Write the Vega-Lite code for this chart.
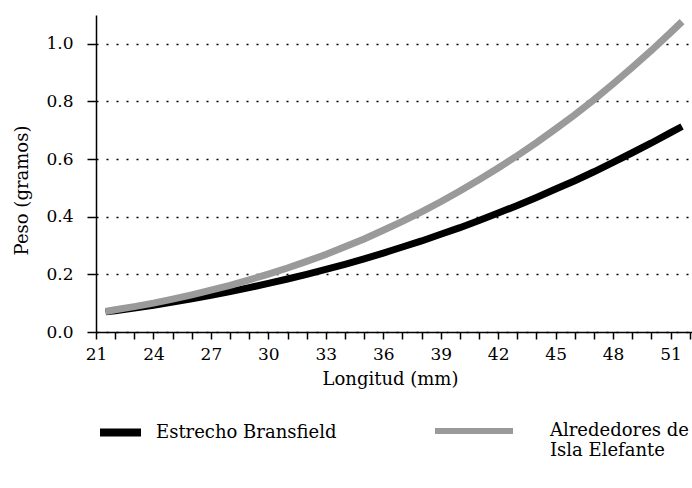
{
  "$schema": "https://vega.github.io/schema/vega-lite/v6.json",
  "width": 596,
  "height": 317,
  "autosize": {"type": "none"},
  "padding": {"left": 96, "top": 15, "right": 0, "bottom": 156},
  "background": "white",
  "config": {
    "view": {"stroke": null},
    "font": "DejaVu Serif",
    "axis": {"labelFont": "DejaVu Serif", "titleFont": "DejaVu Serif"},
    "legend": {"labelFont": "DejaVu Serif", "titleFont": "DejaVu Serif"}
  },
  "data": {
    "values": [
      {"longitud": 21.5, "peso": 0.070, "zona": "Estrecho Bransfield"},
      {"longitud": 22, "peso": 0.074, "zona": "Estrecho Bransfield"},
      {"longitud": 23, "peso": 0.083, "zona": "Estrecho Bransfield"},
      {"longitud": 24, "peso": 0.093, "zona": "Estrecho Bransfield"},
      {"longitud": 25, "peso": 0.104, "zona": "Estrecho Bransfield"},
      {"longitud": 26, "peso": 0.115, "zona": "Estrecho Bransfield"},
      {"longitud": 27, "peso": 0.127, "zona": "Estrecho Bransfield"},
      {"longitud": 28, "peso": 0.140, "zona": "Estrecho Bransfield"},
      {"longitud": 29, "peso": 0.154, "zona": "Estrecho Bransfield"},
      {"longitud": 30, "peso": 0.169, "zona": "Estrecho Bransfield"},
      {"longitud": 31, "peso": 0.184, "zona": "Estrecho Bransfield"},
      {"longitud": 32, "peso": 0.200, "zona": "Estrecho Bransfield"},
      {"longitud": 33, "peso": 0.217, "zona": "Estrecho Bransfield"},
      {"longitud": 34, "peso": 0.235, "zona": "Estrecho Bransfield"},
      {"longitud": 35, "peso": 0.254, "zona": "Estrecho Bransfield"},
      {"longitud": 36, "peso": 0.274, "zona": "Estrecho Bransfield"},
      {"longitud": 37, "peso": 0.295, "zona": "Estrecho Bransfield"},
      {"longitud": 38, "peso": 0.316, "zona": "Estrecho Bransfield"},
      {"longitud": 39, "peso": 0.339, "zona": "Estrecho Bransfield"},
      {"longitud": 40, "peso": 0.362, "zona": "Estrecho Bransfield"},
      {"longitud": 41, "peso": 0.387, "zona": "Estrecho Bransfield"},
      {"longitud": 42, "peso": 0.413, "zona": "Estrecho Bransfield"},
      {"longitud": 43, "peso": 0.439, "zona": "Estrecho Bransfield"},
      {"longitud": 44, "peso": 0.467, "zona": "Estrecho Bransfield"},
      {"longitud": 45, "peso": 0.496, "zona": "Estrecho Bransfield"},
      {"longitud": 46, "peso": 0.525, "zona": "Estrecho Bransfield"},
      {"longitud": 47, "peso": 0.556, "zona": "Estrecho Bransfield"},
      {"longitud": 48, "peso": 0.589, "zona": "Estrecho Bransfield"},
      {"longitud": 49, "peso": 0.622, "zona": "Estrecho Bransfield"},
      {"longitud": 50, "peso": 0.656, "zona": "Estrecho Bransfield"},
      {"longitud": 51, "peso": 0.692, "zona": "Estrecho Bransfield"},
      {"longitud": 51.6, "peso": 0.713, "zona": "Estrecho Bransfield"},
      {"longitud": 21.5, "peso": 0.071, "zona": "Alrededores de Isla Elefante"},
      {"longitud": 22, "peso": 0.077, "zona": "Alrededores de Isla Elefante"},
      {"longitud": 23, "peso": 0.088, "zona": "Alrededores de Isla Elefante"},
      {"longitud": 24, "peso": 0.100, "zona": "Alrededores de Isla Elefante"},
      {"longitud": 25, "peso": 0.114, "zona": "Alrededores de Isla Elefante"},
      {"longitud": 26, "peso": 0.129, "zona": "Alrededores de Isla Elefante"},
      {"longitud": 27, "peso": 0.145, "zona": "Alrededores de Isla Elefante"},
      {"longitud": 28, "peso": 0.162, "zona": "Alrededores de Isla Elefante"},
      {"longitud": 29, "peso": 0.181, "zona": "Alrededores de Isla Elefante"},
      {"longitud": 30, "peso": 0.201, "zona": "Alrededores de Isla Elefante"},
      {"longitud": 31, "peso": 0.222, "zona": "Alrededores de Isla Elefante"},
      {"longitud": 32, "peso": 0.245, "zona": "Alrededores de Isla Elefante"},
      {"longitud": 33, "peso": 0.269, "zona": "Alrededores de Isla Elefante"},
      {"longitud": 34, "peso": 0.296, "zona": "Alrededores de Isla Elefante"},
      {"longitud": 35, "peso": 0.323, "zona": "Alrededores de Isla Elefante"},
      {"longitud": 36, "peso": 0.353, "zona": "Alrededores de Isla Elefante"},
      {"longitud": 37, "peso": 0.384, "zona": "Alrededores de Isla Elefante"},
      {"longitud": 38, "peso": 0.417, "zona": "Alrededores de Isla Elefante"},
      {"longitud": 39, "peso": 0.452, "zona": "Alrededores de Isla Elefante"},
      {"longitud": 40, "peso": 0.489, "zona": "Alrededores de Isla Elefante"},
      {"longitud": 41, "peso": 0.528, "zona": "Alrededores de Isla Elefante"},
      {"longitud": 42, "peso": 0.569, "zona": "Alrededores de Isla Elefante"},
      {"longitud": 43, "peso": 0.612, "zona": "Alrededores de Isla Elefante"},
      {"longitud": 44, "peso": 0.657, "zona": "Alrededores de Isla Elefante"},
      {"longitud": 45, "peso": 0.705, "zona": "Alrededores de Isla Elefante"},
      {"longitud": 46, "peso": 0.754, "zona": "Alrededores de Isla Elefante"},
      {"longitud": 47, "peso": 0.806, "zona": "Alrededores de Isla Elefante"},
      {"longitud": 48, "peso": 0.861, "zona": "Alrededores de Isla Elefante"},
      {"longitud": 49, "peso": 0.918, "zona": "Alrededores de Isla Elefante"},
      {"longitud": 50, "peso": 0.977, "zona": "Alrededores de Isla Elefante"},
      {"longitud": 51, "peso": 1.039, "zona": "Alrededores de Isla Elefante"},
      {"longitud": 51.6, "peso": 1.077, "zona": "Alrededores de Isla Elefante"}
    ]
  },
  "encoding": {
    "x": {
      "field": "longitud",
      "type": "quantitative",
      "scale": {"domain": [21, 52.12], "nice": false, "zero": false},
      "axis": {
        "title": "Longitud (mm)",
        "values": [21,22,23,24,25,26,27,28,29,30,31,32,33,34,35,36,37,38,39,40,41,42,43,44,45,46,47,48,49,50,51,52],
        "labelExpr": "(datum.value - 21) % 3 == 0 && datum.value <= 51 ? datum.label : ''",
        "labelOverlap": false,
        "labelFlush": false,
        "grid": false,
        "tickSize": 7,
        "tickWidth": 1.5,
        "tickColor": "black",
        "domainColor": "black",
        "domainWidth": 1.5,
        "labelFont": "DejaVu Serif",
        "labelFontSize": 17,
        "labelPadding": 7,
        "labelColor": "black",
        "titleFont": "DejaVu Serif",
        "titleFontSize": 18,
        "titleFontWeight": "normal",
        "titleColor": "black",
        "titleX": 294,
        "titleY": 52,
        "titleBaseline": "alphabetic"
      }
    },
    "y": {
      "field": "peso",
      "type": "quantitative",
      "scale": {"domain": [0, 1.1], "nice": false},
      "axis": {
        "title": "Peso (gramos)",
        "values": [0, 0.2, 0.4, 0.6, 0.8, 1.0],
        "format": ".1f",
        "grid": true,
        "gridDash": [2, 8],
        "gridColor": "black",
        "gridWidth": 1.5,
        "domainColor": "black",
        "domainWidth": 1.5,
        "tickColor": "black",
        "tickWidth": 1.5,
        "tickSize": 9,
        "labelFont": "DejaVu Serif",
        "labelFontSize": 17,
        "labelColor": "black",
        "labelPadding": 14,
        "titleFont": "DejaVu Serif",
        "titleFontSize": 18,
        "titleFontWeight": "normal",
        "titleColor": "black",
        "titleX": -74,
        "titleY": 175,
        "titleBaseline": "middle"
      }
    }
  },
  "layer": [
    {
      "transform": [{"filter": "datum.zona == 'Estrecho Bransfield'"}],
      "mark": {"type": "line", "strokeWidth": 7},
      "encoding": {
        "stroke": {
          "field": "zona",
          "type": "nominal",
          "scale": {"domain": ["Estrecho Bransfield"], "range": ["#000000"]},
          "legend": {
            "orient": "none",
            "legendX": 0,
            "legendY": 393,
            "title": null,
            "padding": 0,
            "symbolType": "stroke",
            "symbolSize": 1681,
            "symbolStrokeWidth": 8,
            "labelFont": "DejaVu Serif",
            "labelFontSize": 18,
            "labelOffset": 11,
            "labelColor": "black",
            "labelLimit": 0
          }
        }
      }
    },
    {
      "transform": [{"filter": "datum.zona != 'Estrecho Bransfield'"}],
      "mark": {"type": "line", "strokeWidth": 7},
      "encoding": {
        "color": {
          "field": "zona",
          "type": "nominal",
          "scale": {"domain": ["Alrededores de Isla Elefante"], "range": ["#9a9a9a"]},
          "legend": {
            "orient": "none",
            "legendX": 336,
            "legendY": 374,
            "title": null,
            "padding": 0,
            "symbolType": "stroke",
            "symbolSize": 6084,
            "symbolStrokeWidth": 6,
            "labelFont": "DejaVu Serif",
            "labelFontSize": 18,
            "labelOffset": 34,
            "labelColor": "black",
            "labelLimit": 0,
            "labelExpr": "datum.label == 'Alrededores de Isla Elefante' ? ['Alrededores de', 'Isla Elefante'] : datum.label"
          }
        }
      }
    }
  ]
}
